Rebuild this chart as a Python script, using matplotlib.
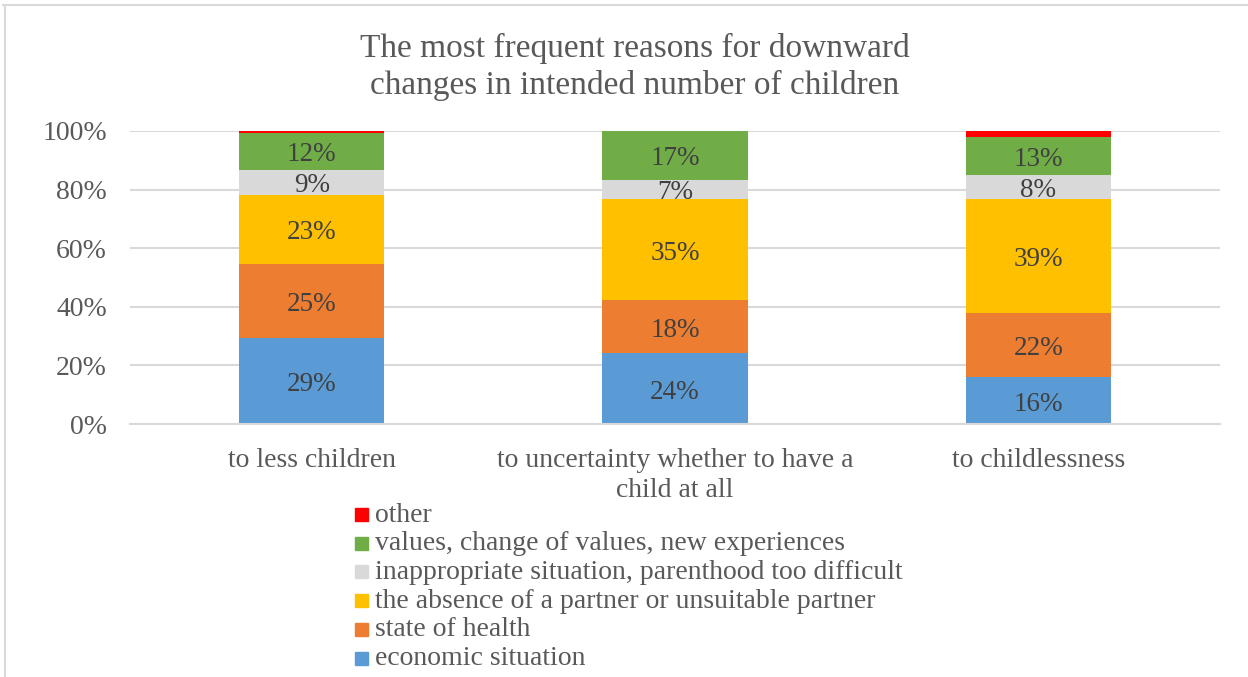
import matplotlib
matplotlib.use("Agg")
import matplotlib.pyplot as plt
from matplotlib.lines import Line2D
import numpy as np

plt.rcParams['font.family'] = ['Liberation Serif', 'DejaVu Serif']

categories = ["to less children", "to uncertainty whether to have a\nchild at all", "to childlessness"]
series_names = ["economic situation", "state of health",
                "the absence of a partner or unsuitable partner",
                "inappropriate situation, parenthood too difficult",
                "values, change of values, new experiences", "other"]
economic = [29.4, 24.1, 16.0]
health = [25.3, 18.1, 21.9]
partner = [23.4, 34.6, 38.9]
situation = [8.7, 6.6, 8.2]
values = [12.4, 16.6, 13.1]
other = [0.8, 0.0, 1.9]
colors = ["#5b9bd5", "#ed7d31", "#ffc000", "#d9d9d9", "#70ad47", "#ff0000"]
yticks = [0, 20, 40, 60, 80, 100]

series = [economic, health, partner, situation, values, other]

fig = plt.figure(figsize=(12.48, 6.77), dpi=100)
ax = fig.add_axes([130/1248, 1-424/677, 1090/1248, 293/677])

x = np.arange(len(categories))
bottom = np.zeros(len(categories))
for name, vals, c in zip(series_names, series, colors):
    vals = np.array(vals)
    ax.bar(x, vals, 0.40, bottom=bottom, color=c, label=name, zorder=2)
    if name != "other":
        for xi, b, v in zip(x, bottom, vals):
            ax.annotate(f"{v:.0f}%", (xi, b + v/2), xytext=(0, -2.5), textcoords='offset points',
                        ha='center', va='center', fontsize=19.5, color='#404040', zorder=3)
    bottom += vals

ax.set_xlim(-0.5, 2.5)
ax.set_ylim(0, 100)
ax.set_yticks(yticks)
ax.set_yticklabels([f"{t}%" for t in yticks], fontsize=20, color='#595959')
ax.set_xticks(x)
ax.set_xticklabels(categories, fontsize=20, color='#595959', linespacing=1.27)
ax.tick_params(axis='both', length=0)
ax.tick_params(axis='y', pad=16.5)
ax.tick_params(axis='x', pad=17)
ax.grid(axis='y', color='#d9d9d9', linewidth=1.5, zorder=0)
for s in ['top', 'right', 'left']:
    ax.spines[s].set_visible(False)
ax.spines['bottom'].set_color('#d9d9d9')
ax.spines['bottom'].set_linewidth(1.5)

fig.text(635/1248, 1-67/677, "The most frequent reasons for downward\nchanges in intended number of children",
         ha='center', va='center', fontsize=24, color='#595959', linespacing=1.27)

# legend (reverse order, other on top)
row_y0 = 513
row_dy = 28.7
for i, (name, c) in enumerate(list(zip(series_names, colors))[::-1]):
    yc = 1 - (row_y0 + i*row_dy)/677
    fig.patches.append(matplotlib.patches.Rectangle((355/1248, yc - 8/677), 13/1248, 13/677,
                       transform=fig.transFigure, color=c, figure=fig))
    fig.text(375/1248, yc - 2/677, name, ha='left', va='center', fontsize=20, color='#595959')

# outer frame
fig.add_artist(Line2D([3/1248, 1], [1-5/677, 1-5/677], transform=fig.transFigure, color='#d9d9d9', lw=1.5))
fig.add_artist(Line2D([5/1248, 5/1248], [0, 1-5/677], transform=fig.transFigure, color='#d9d9d9', lw=1.5))

fig.savefig("out.png", dpi=100)
